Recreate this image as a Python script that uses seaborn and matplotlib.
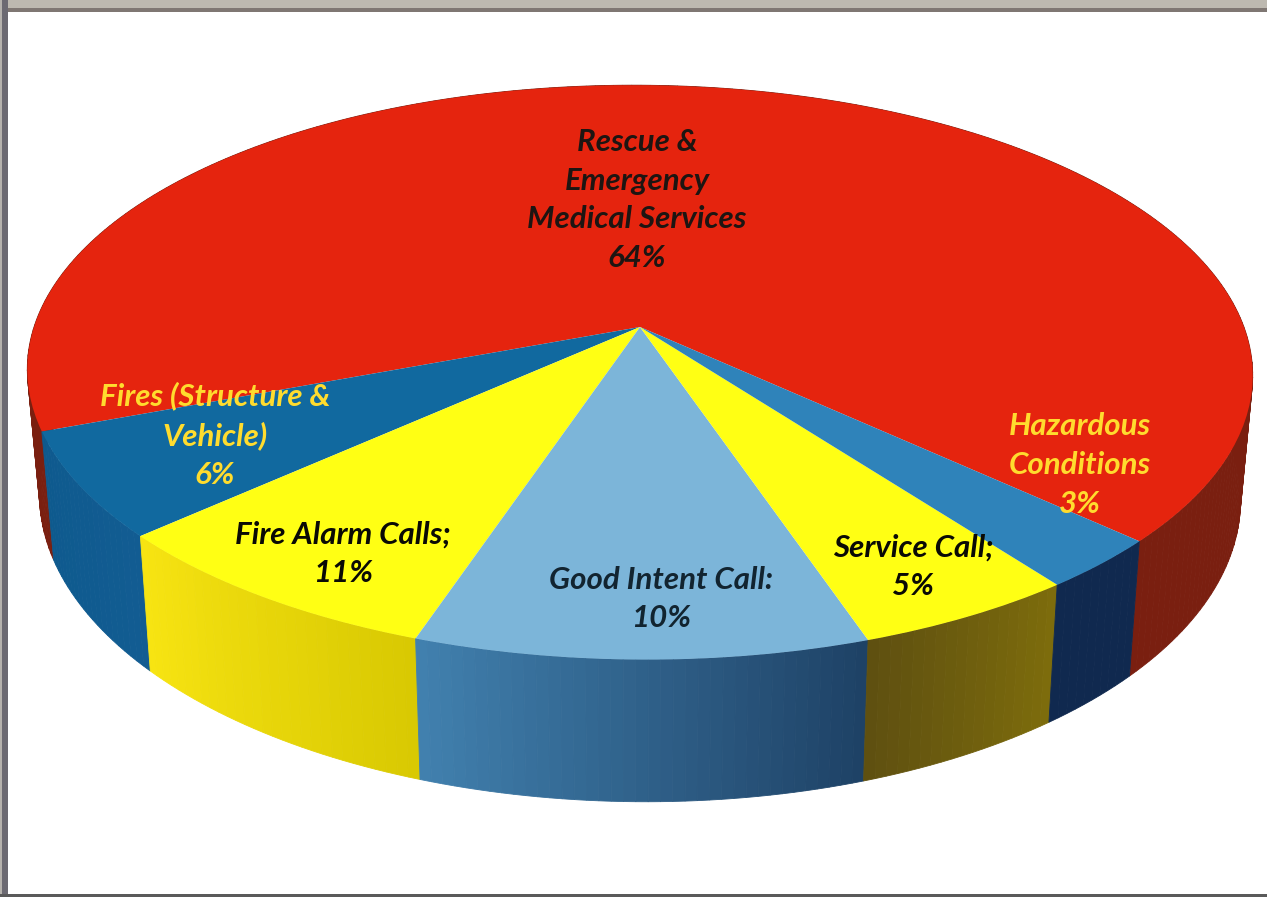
""" 3D style pie of fire department call types """

import numpy as np
import matplotlib
matplotlib.use('Agg')
import matplotlib.pyplot as plt
import seaborn as sns
from matplotlib.transforms import Transform

categories = ['Rescue &\nEmergency\nMedical Services', 'Fires (Structure &\nVehicle)',
              'Fire Alarm Calls;', 'Good Intent Call:', 'Service Call;', 'Hazardous\nConditions']
printed_pct = [64, 6, 11, 10, 5, 3]
# slice sizes as drawn in the picture, they differ a bit from the printed numbers
drawn_share = [67.7, 5.9, 8.1, 10.3, 5.1, 2.9]

top_colors = ['#e5240e', '#11699f', '#ffff14', '#7cb5d9', '#ffff14', '#2f83ba']
wall_start = ['#7a1f10', '#0e5a8e', '#f7e412', '#4180ae', '#5f5010', '#10294f']
wall_end = ['#7a1f10', '#125c92', '#d9c902', '#1e4266', '#7d6c0c', '#10294f']
text_colors = ['#1d1512', '#ffdc2e', '#0a0a05', '#122430', '#0a0a05', '#ffdc2e']
label_x = [637, 215, 343, 661, 913, 1080]
label_y = [200, 435, 554, 599, 567, 465]

start_angle = -42.5
cx = 640
persp = 0.158
scan_tilt = 0.005


def project(u, v, r, y0, k):
    # unit disc to pixels, far side is squeezed, scan is a little rotated
    d = 1 + persp * v
    x = cx + r * u / d
    return x, y0 - k * v / d + scan_tilt * (x - cx)


class Tilt(Transform):
    input_dims = 2
    output_dims = 2

    def transform_non_affine(self, xy):
        xy = np.asarray(xy)
        x, y = project(xy[:, 0], xy[:, 1], 605, 327, 280)
        return np.column_stack([x, y])


sns.set_theme(style='white')
plt.rcParams['font.family'] = ['Lato', 'DejaVu Sans']

fig = plt.figure(figsize=(12.67, 8.97), dpi=100)
ax = fig.add_axes([0, 0, 1, 1])

wedges, _ = ax.pie(drawn_share, colors=top_colors, startangle=start_angle,
                   counterclock=True, wedgeprops={'linewidth': 0})
ax.set_aspect('auto')
ax.set_xlim(0, 1267)
ax.set_ylim(897, 0)
ax.axis('off')

# side wall, back goes first, the top is drawn over it
for i, w in enumerate(wedges):
    steps = max(int(w.theta2 - w.theta1), 2)
    shades = sns.blend_palette([wall_start[i], wall_end[i]], steps)
    angles = np.linspace(w.theta1, w.theta2, steps + 1)
    for j in range(steps):
        tt = np.radians(np.linspace(angles[j], angles[j + 1], 3))
        x1, y1 = project(np.cos(tt), np.sin(tt), 605, 327, 280)
        x2, y2 = project(np.cos(tt), np.sin(tt), 593, 449, 297)
        ax.fill(np.r_[x1, x2[::-1]], np.r_[y1, y2[::-1]], color=shades[j], lw=0.6, zorder=1)

tilt = Tilt() + ax.transData
for w in wedges:
    w.set_transform(tilt)
    w.set_zorder(2)
    w.set_clip_on(False)

for i, name in enumerate(categories):
    ax.text(label_x[i], label_y[i], f'{name}\n{printed_pct[i]}%', color=text_colors[i],
            ha='center', va='center', ma='center', fontsize=22.5, fontweight='bold',
            fontstyle='italic', linespacing=1.47, zorder=3)

# scanned page edge
ax.axhspan(0, 8, color='#bdb9b0', lw=0, zorder=4)
ax.axhspan(8, 12, color='#7f7773', lw=0, zorder=4)
ax.axvspan(0, 2, color='#b5b2ad', lw=0, zorder=4)
ax.axvspan(2, 8, color='#6c6a72', lw=0, zorder=4)
ax.axhspan(894, 897, color='#5a5a5a', lw=0, zorder=4)

fig.savefig('out.png', dpi=100)
